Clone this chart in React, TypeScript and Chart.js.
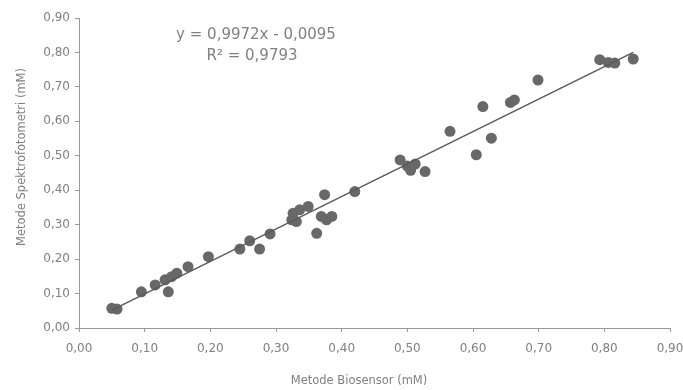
import React, { useEffect, useRef } from 'react';
import { Chart, registerables } from 'chart.js';

Chart.register(...registerables);

// Metode Biosensor (mM) – x values
const biosensor = [
  0.05, 0.058, 0.095, 0.116, 0.131, 0.141, 0.149, 0.136, 0.166, 0.197,
  0.245, 0.26, 0.275, 0.291, 0.324, 0.326, 0.331, 0.336, 0.349, 0.362,
  0.369, 0.377, 0.385, 0.374, 0.42, 0.489, 0.5, 0.505, 0.512, 0.527,
  0.565, 0.605, 0.615, 0.628, 0.657, 0.663, 0.699, 0.793, 0.806, 0.816,
  0.844,
];
// Metode Spektrofotometri (mM) – y values
const spektrofotometri = [
  0.057, 0.055, 0.105, 0.125, 0.14, 0.149, 0.159, 0.105, 0.178, 0.207,
  0.229, 0.253, 0.229, 0.273, 0.314, 0.333, 0.309, 0.343, 0.353, 0.275,
  0.324, 0.314, 0.324, 0.387, 0.396, 0.488, 0.47, 0.458, 0.476, 0.454,
  0.571, 0.503, 0.643, 0.551, 0.655, 0.662, 0.72, 0.779, 0.771, 0.769,
  0.781,
];

// Trend line end points
const trendX = [0.05, 0.844];
const trendY = [0.052, 0.8];

const tickValues = [0, 0.1, 0.2, 0.3, 0.4, 0.5, 0.6, 0.7, 0.8, 0.9];
const equationText = 'y = 0,9972x - 0,0095';
const r2Text = 'R\u00B2 = 0,9793';
const xTitle = 'Metode Biosensor (mM)';
const yTitle = 'Metode Spektrofotometri (mM)';

const FONT = '"DejaVu Sans", sans-serif';
const TEXT_COLOR = '#808080';
const AXIS_COLOR = '#9a9a9a';

const fmt = (v: number) => v.toFixed(2).replace('.', ',');

export default function App() {
  const canvasRef = useRef<HTMLCanvasElement | null>(null);

  useEffect(() => {
    document.body.style.margin = '0';
    const canvas = canvasRef.current;
    if (!canvas) return;

    const points = biosensor.map((x, i) => ({ x, y: spektrofotometri[i] }));
    const trend = trendX.map((x, i) => ({ x, y: trendY[i] }));

    const textPlugin = {
      id: 'textPlugin',
      afterDraw(chart: any) {
        const ctx = chart.ctx as CanvasRenderingContext2D;
        ctx.save();
        ctx.fillStyle = TEXT_COLOR;
        ctx.textAlign = 'center';
        ctx.textBaseline = 'middle';
        // equation
        ctx.font = `15px ${FONT}`;
        ctx.fillText(equationText, 256, 35);
        ctx.fillText(r2Text, 252, 56);
        // axis titles
        ctx.font = `11.5px ${FONT}`;
        ctx.fillText(xTitle, 359, 381);
        ctx.translate(22, 157);
        ctx.rotate(-Math.PI / 2);
        ctx.fillText(yTitle, 0, 0);
        ctx.restore();
      },
    };

    const setTicks = (scale: any) => {
      scale.ticks = tickValues.map((v) => ({ value: v }));
    };

    const chart = new Chart(canvas, {
      type: 'scatter',
      data: {
        datasets: [
          {
            type: 'line',
            data: trend,
            borderColor: '#5a5a5a',
            borderWidth: 1.5,
            pointRadius: 0,
            fill: false,
          },
          {
            type: 'scatter',
            data: points,
            backgroundColor: '#686868',
            borderColor: '#686868',
            borderWidth: 0,
            pointRadius: 5.5,
          },
        ],
      },
      plugins: [textPlugin],
      options: {
        animation: false,
        responsive: false,
        maintainAspectRatio: false,
        layout: { padding: { top: 18, right: 0, left: 0, bottom: 0 } },
        plugins: {
          legend: { display: false },
          tooltip: { enabled: false },
        },
        scales: {
          x: {
            type: 'linear',
            min: 0,
            max: 0.9,
            afterBuildTicks: setTicks,
            afterFit: (s: any) => {
              s.height = 62;
              s.paddingRight = 13;
              s.paddingLeft = 0;
            },
            grid: {
              drawOnChartArea: false,
              drawTicks: true,
              tickLength: 4,
              color: AXIS_COLOR,
            },
            border: { display: true, color: AXIS_COLOR, width: 1 },
            ticks: {
              padding: 10,
              color: TEXT_COLOR,
              font: { family: FONT, size: 12 },
              maxRotation: 0,
              autoSkip: false,
              callback: (v: any) => fmt(Number(v)),
            },
          },
          y: {
            type: 'linear',
            min: 0,
            max: 0.9,
            afterBuildTicks: setTicks,
            afterFit: (s: any) => {
              s.width = 79;
            },
            grid: {
              drawOnChartArea: false,
              drawTicks: true,
              tickLength: 4,
              color: AXIS_COLOR,
            },
            border: { display: true, color: AXIS_COLOR, width: 1 },
            ticks: {
              padding: 5,
              color: TEXT_COLOR,
              font: { family: FONT, size: 12 },
              autoSkip: false,
              callback: (v: any) => fmt(Number(v)),
            },
          },
        },
      },
    } as any);

    return () => {
      chart.destroy();
    };
  }, []);

  return (
    <div style={{ width: 683, height: 390, background: '#ffffff' }}>
      <canvas ref={canvasRef} width={683} height={390} style={{ display: 'block' }} />
    </div>
  );
}
